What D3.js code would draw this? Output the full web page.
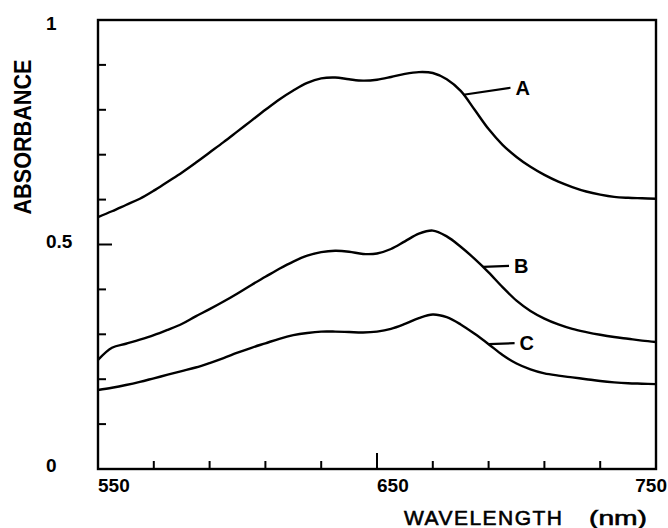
<!DOCTYPE html>
<html>
<head>
<meta charset="utf-8">
<script src="https://cdn.jsdelivr.net/npm/d3@7"></script>
<style>
    body { margin: 0; background: #fff; }
    text { font-family: "Liberation Sans", Arial, sans-serif; font-weight: bold; fill: #000; }
</style>
</head>
<body>
<svg id="chart" width="668" height="528"></svg>
<script>
// wavelength grid (nm), shared by all three spectra
let wavelengths = d3.range(550, 751, 5);

// absorbance, one value per wavelength
let seriesA = [0.561, 0.574, 0.588, 0.602, 0.620, 0.640, 0.660, 0.682, 0.705, 0.728,
    0.752, 0.776, 0.800, 0.823, 0.843, 0.860, 0.870, 0.872, 0.868, 0.865,
    0.867, 0.873, 0.880, 0.884, 0.882, 0.868, 0.842, 0.800, 0.757, 0.722,
    0.695, 0.673, 0.655, 0.640, 0.628, 0.618, 0.611, 0.606, 0.604, 0.603, 0.602];
let seriesB = [0.243, 0.270, 0.279, 0.288, 0.298, 0.310, 0.323, 0.340, 0.356, 0.373,
    0.391, 0.410, 0.428, 0.446, 0.462, 0.475, 0.483, 0.486, 0.484, 0.479,
    0.480, 0.490, 0.507, 0.524, 0.531, 0.518, 0.495, 0.468, 0.438, 0.405,
    0.375, 0.352, 0.335, 0.322, 0.312, 0.305, 0.299, 0.294, 0.290, 0.286, 0.283];
let seriesC = [0.176, 0.181, 0.187, 0.194, 0.202, 0.210, 0.218, 0.226, 0.236, 0.247,
    0.259, 0.270, 0.280, 0.290, 0.298, 0.303, 0.306, 0.306, 0.305, 0.304,
    0.306, 0.312, 0.323, 0.336, 0.344, 0.338, 0.322, 0.301, 0.278, 0.254,
    0.235, 0.222, 0.213, 0.208, 0.204, 0.200, 0.196, 0.193, 0.191, 0.190, 0.189];

let seriesNames = ["A", "B", "C"];
// wavelength where each leader line leaves its curve
let leaderWavelengths = [681, 688, 690];

let xTickValues = d3.range(550, 751, 20);
let xLabelValues = [550, 650, 750];
let yTickValues = d3.range(0, 1.001, 0.1);
let yLabelValues = [0, 0.5, 1];
let yLabelTexts = ["0", "0.5", "1"];

let svg = d3.select("#chart");
let margin = {top: 20, right: 12, bottom: 59, left: 98};
let width = +svg.attr("width") - margin.left - margin.right,
    height = +svg.attr("height") - margin.top - margin.bottom;

let xScale = d3.scaleLinear().domain([550, 750]).range([margin.left, margin.left + width]);
let yScale = d3.scaleLinear().domain([0, 1]).range([margin.top + height, margin.top]);

// frame
svg.append("rect")
    .attr("x", xScale(550))
    .attr("y", yScale(1))
    .attr("width", xScale(750) - xScale(550))
    .attr("height", yScale(0) - yScale(1))
    .attr("fill", "none")
    .attr("stroke", "#000")
    .attr("stroke-width", 2.4);

// x ticks point up into the plot, longer one at 650
svg.append("g").selectAll("line")
    .data(xTickValues.filter(function (d) { return d > 550 && d < 750; }))
    .enter().append("line")
    .attr("x1", function (d) { return xScale(d); })
    .attr("x2", function (d) { return xScale(d); })
    .attr("y1", yScale(0))
    .attr("y2", function (d) { return yScale(0) - (d === 650 ? 16 : 8); })
    .attr("stroke", "#000")
    .attr("stroke-width", 2);

// y ticks point right into the plot, longer one at 0.5
svg.append("g").selectAll("line")
    .data(yTickValues.filter(function (d) { return d > 0.05 && d < 0.95; }))
    .enter().append("line")
    .attr("x1", xScale(550))
    .attr("x2", function (d) { return xScale(550) + (Math.abs(d - 0.5) < 0.01 ? 14 : 8); })
    .attr("y1", function (d) { return yScale(d); })
    .attr("y2", function (d) { return yScale(d); })
    .attr("stroke", "#000")
    .attr("stroke-width", 2);

// tick labels
svg.append("g").selectAll("text")
    .data(xLabelValues)
    .enter().append("text")
    .attr("x", function (d) { return d === 750 ? xScale(d) + 11 : xScale(d); })
    .attr("y", yScale(0) + 23)
    .attr("text-anchor", function (d) { return d === 750 ? "end" : "start"; })
    .style("font-size", "19px")
    .text(function (d) { return d; });

svg.append("g").selectAll("text")
    .data(yLabelValues)
    .enter().append("text")
    .attr("x", 46)
    .attr("y", function (d) { return Math.max(yScale(d) - 4, 23) + 7; })
    .style("font-size", "19px")
    .text(function (d, i) { return yLabelTexts[i]; });

// axis titles
svg.append("text")
    .attr("transform", "translate(31,137) rotate(-90)")
    .attr("text-anchor", "middle")
    .attr("textLength", 155)
    .attr("lengthAdjust", "spacingAndGlyphs")
    .style("font-size", "24px")
    .text("ABSORBANCE");

// the x title has a wide gap before the unit, so two pieces
svg.append("text")
    .attr("x", 404)
    .attr("y", 525)
    .attr("textLength", 158)
    .attr("lengthAdjust", "spacing")
    .style("font-size", "21px")
    .style("font-weight", "normal")
    .style("stroke", "#000")
    .style("stroke-width", 0.6)
    .text("WAVELENGTH");

svg.append("text")
    .attr("x", 589)
    .attr("y", 525)
    .attr("textLength", 58)
    .attr("lengthAdjust", "spacingAndGlyphs")
    .style("font-size", "21px")
    .style("font-weight", "normal")
    .style("stroke", "#000")
    .style("stroke-width", 0.6)
    .text("(nm)");

// curves
let allSeries = [seriesA, seriesB, seriesC];
let line = d3.line()
    .x(function (d) { return xScale(d[0]); })
    .y(function (d) { return yScale(d[1]); })
    .curve(d3.curveCatmullRom.alpha(0.5));

svg.append("g").selectAll("path")
    .data(allSeries)
    .enter().append("path")
    .attr("d", function (values) {
        return line(d3.zip(wavelengths, values));
    })
    .attr("fill", "none")
    .attr("stroke", "#000")
    .attr("stroke-width", 2.4);

// leader lines and curve labels
let labelGroups = svg.append("g").selectAll("g")
    .data(seriesNames)
    .enter().append("g");

labelGroups.each(function (name, i) {
    let g = d3.select(this);
    let wl = leaderWavelengths[i];
    let yValue = d3.scaleLinear().domain(wavelengths).range(allSeries[i])(wl);
    let x0 = xScale(wl), y0 = yScale(yValue);
    let y1 = i === 0 ? y0 - 7 : y0 - 1;
    g.append("line")
        .attr("x1", x0).attr("y1", y0)
        .attr("x2", x0 + (i === 0 ? 47 : 26)).attr("y2", y1)
        .attr("stroke", "#000")
        .attr("stroke-width", 2.2);
    g.append("text")
        .attr("x", x0 + (i === 0 ? 52 : 31))
        .attr("y", y1 + 7)
        .style("font-size", "20px")
        .text(name);
});
</script>
</body>
</html>
